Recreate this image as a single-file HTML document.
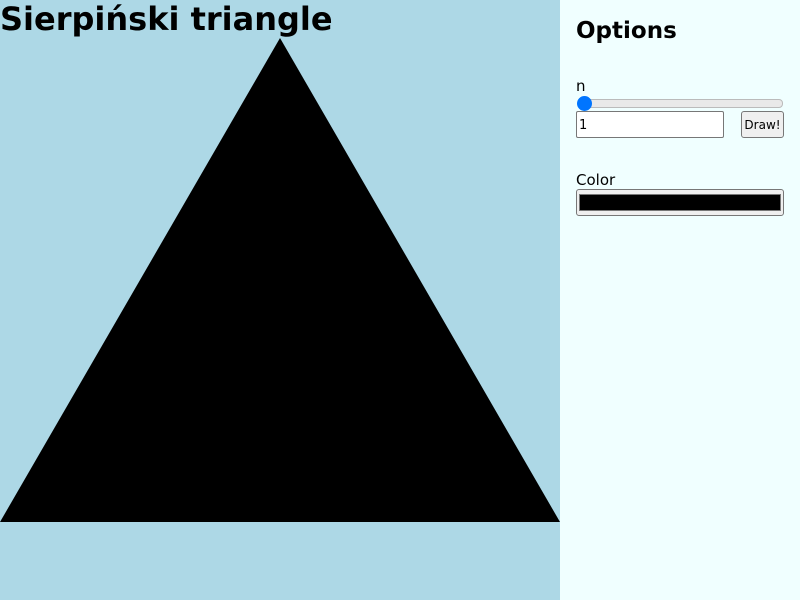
<!DOCTYPE html>
<html><head><meta charset="utf-8"><style>
body{margin:0;width:800px;height:600px;overflow:hidden;font-family:"DejaVu Sans","Liberation Sans",sans-serif;position:relative}
#left{position:absolute;left:0;top:0;width:560px;height:600px;background:#add8e6}
#right{position:absolute;left:560px;top:0;width:240px;height:600px;background:#f0ffff}
.abs{position:absolute}
</style></head><body>
<div id="left">
<svg id="tri" width="560" height="600" class="abs" style="left:0;top:0"></svg>
<div class="abs" style="left:0;top:0;font-size:32px;font-weight:bold;line-height:38px;color:#000">Sierpiński triangle</div>
</div>
<div id="right">
<div class="abs" style="left:16px;top:18px;font-size:23px;font-weight:bold">Options</div>
<div class="abs" style="left:16px;top:77px;font-size:15px">n</div>
<div class="abs" style="left:18px;top:99px;width:203px;height:7px;background:#e9e9e9;border:1px solid #bbb;border-radius:4px"></div>
<div class="abs" style="left:17px;top:96px;width:15px;height:15px;background:#0075ff;border-radius:50%"></div>
<div class="abs" style="left:16px;top:111px;width:144px;height:25px;background:#fff;border:1px solid #777;border-radius:2px;font-size:13px;line-height:27px;padding-left:2px;box-sizing:content-box">1</div>
<div class="abs" style="left:181px;top:111px;width:41px;height:25px;background:#efefef;border:1px solid #777;border-radius:3px;font-size:12px;line-height:26px;text-align:center">Draw!</div>
<div class="abs" style="left:16px;top:171px;font-size:15px">Color</div>
<div class="abs" style="left:16px;top:189px;width:206px;height:25px;background:#efefef;border:1px solid #777;border-radius:3px"><div style="position:absolute;left:2px;top:4px;right:2px;bottom:4px;background:#000;border:1px solid #777"></div></div>
</div>
<script>
const nLevels = [1];
const vertices = [[0,522],[560,522],[280,38]];
const fillColor = ["#000000"];
const svg = document.getElementById('tri');
function mid(a,b){return [(a[0]+b[0])/2,(a[1]+b[1])/2];}
function draw(p,n){
  if(n<=1){
    const poly=document.createElementNS('http://www.w3.org/2000/svg','polygon');
    poly.setAttribute('points',p.map(v=>v.join(',')).join(' '));
    poly.setAttribute('fill',fillColor[0]);
    
    
    svg.appendChild(poly);return;
  }
  const a=p[0],b=p[1],c=p[2];
  draw([a,mid(a,b),mid(a,c)],n-1);
  draw([mid(a,b),b,mid(b,c)],n-1);
  draw([mid(a,c),mid(b,c),c],n-1);
}
draw(vertices,nLevels[0]);
</script>
</body></html>
